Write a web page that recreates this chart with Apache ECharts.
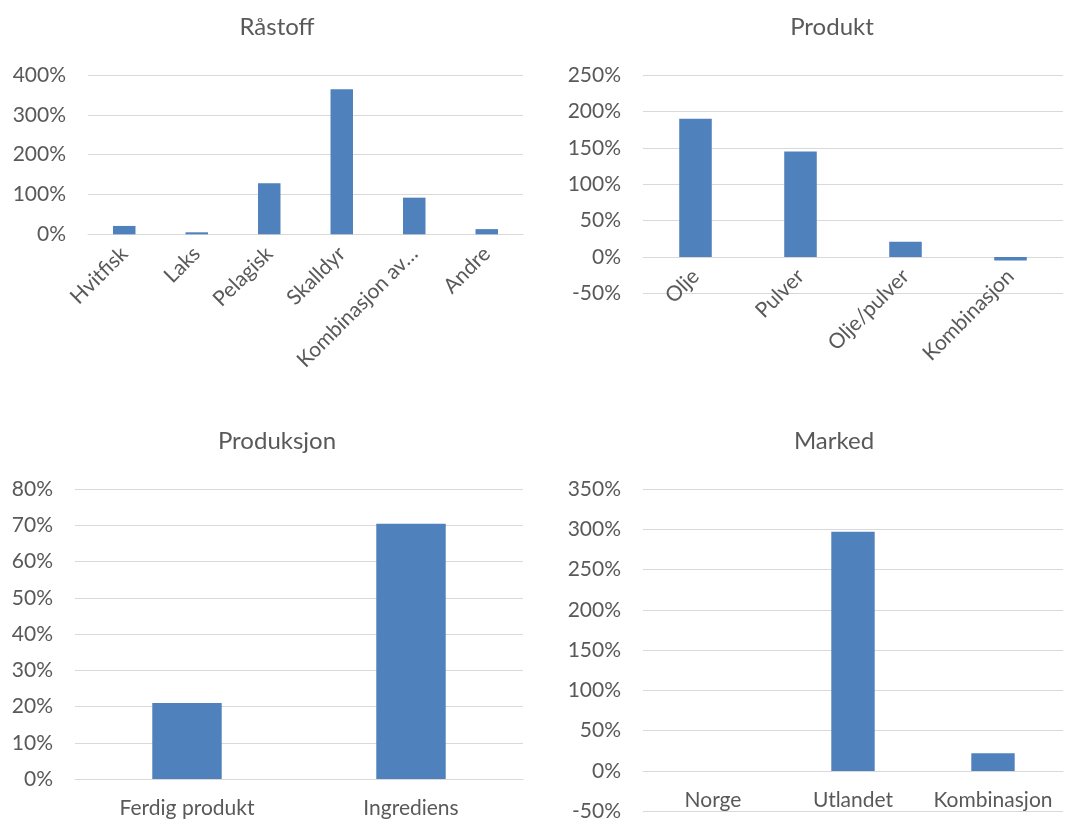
<!DOCTYPE html>
<html>
<head>
<meta charset="utf-8">
<script src="https://cdn.jsdelivr.net/npm/echarts@6/dist/echarts.min.js"></script>
<style>
  html, body { margin: 0; padding: 0; background: #fff; }
  #chart { width: 1074px; height: 821px; }
</style>
</head>
<body>
<div id="chart"></div>
<script>
// Råstoff
const rastoffCats = ['Hvitfisk', 'Laks', 'Pelagisk', 'Skalldyr', 'Kombinasjon av…', 'Andre'];
const rastoffVals = [21, 5, 128, 364, 92, 13];
const rastoffTicks = { min: 0, max: 400, interval: 100 };

// Produkt
const produktCats = ['Olje', 'Pulver', 'Olje/pulver', 'Kombinasjon'];
const produktVals = [190, 145, 21, -5];
const produktTicks = { min: -50, max: 250, interval: 50 };

// Produksjon
const produksjonCats = ['Ferdig produkt', 'Ingrediens'];
const produksjonVals = [21, 70.4];
const produksjonTicks = { min: 0, max: 80, interval: 10 };

// Marked
const markedCats = ['Norge', 'Utlandet', 'Kombinasjon'];
const markedVals = [0, 297, 22];
const markedTicks = { min: -50, max: 350, interval: 50 };

const FONT = 'Lato';
const TEXT = '#595959';
const GRID = '#d9d9d9';
const BAR = '#4f81bd';

const panels = [
  { title: 'Råstoff',    cx: 272, ty: 10,  cats: rastoffCats,    vals: rastoffVals,    ticks: rastoffTicks,    grid: { left: 88,  right: 551, top: 75,  height: 159.3 }, rotate: 45 },
  { title: 'Produkt',    cx: 827, ty: 10,  cats: produktCats,    vals: produktVals,    ticks: produktTicks,    grid: { left: 643, right: 11,  top: 75,  height: 218.3 }, rotate: 45 },
  { title: 'Produksjon', cx: 272, ty: 424, cats: produksjonCats, vals: produksjonVals, ticks: produksjonTicks, grid: { left: 75,  right: 551, top: 489, height: 290 },   rotate: 0 },
  { title: 'Marked',     cx: 829, ty: 424, cats: markedCats,     vals: markedVals,     ticks: markedTicks,     grid: { left: 643, right: 11,  top: 489, height: 322.3 }, rotate: 0 }
];

// The category axis sits on the zero line of its value axis.
function zeroOffset(p) {
  const t = p.ticks;
  return -((0 - t.min) / (t.max - t.min)) * p.grid.height;
}

const option = {
  animation: false,
  backgroundColor: '#ffffff',
  title: panels.map(p => ({
    text: p.title,
    left: p.cx,
    top: p.ty,
    textAlign: 'center',
    textStyle: { fontFamily: FONT, fontSize: 24, fontWeight: 'normal', color: TEXT }
  })),
  grid: panels.map(p => Object.assign({ containLabel: false, outerBoundsMode: 'none' }, p.grid)),
  xAxis: panels.map((p, i) => ({
    type: 'category',
    gridIndex: i,
    data: p.cats,
    position: 'bottom',
    offset: zeroOffset(p),
    axisLine: { show: true, onZero: false, lineStyle: { color: GRID, width: 1 } },
    axisTick: { show: false },
    axisLabel: {
      interval: 0,
      rotate: p.rotate,
      margin: p.rotate ? 16 : 19,
      fontFamily: FONT,
      fontSize: 21,
      color: TEXT
    },
    splitLine: { show: false }
  })),
  yAxis: panels.map((p, i) => ({
    type: 'value',
    gridIndex: i,
    min: p.ticks.min,
    max: p.ticks.max,
    interval: p.ticks.interval,
    axisLine: { show: false },
    axisTick: { show: false },
    axisLabel: {
      margin: 22,
      fontFamily: FONT,
      fontSize: 21,
      color: TEXT,
      formatter: v => v + '%'
    },
    splitLine: { show: true, lineStyle: { color: GRID, width: 1 } }
  })),
  series: panels.map((p, i) => ({
    type: 'bar',
    xAxisIndex: i,
    yAxisIndex: i,
    data: p.vals,
    barWidth: '31%',
    itemStyle: { color: BAR },
    silent: true
  }))
};

const chart = echarts.init(document.getElementById('chart'), null, { renderer: 'canvas' });
chart.setOption(option);
</script>
</body>
</html>
